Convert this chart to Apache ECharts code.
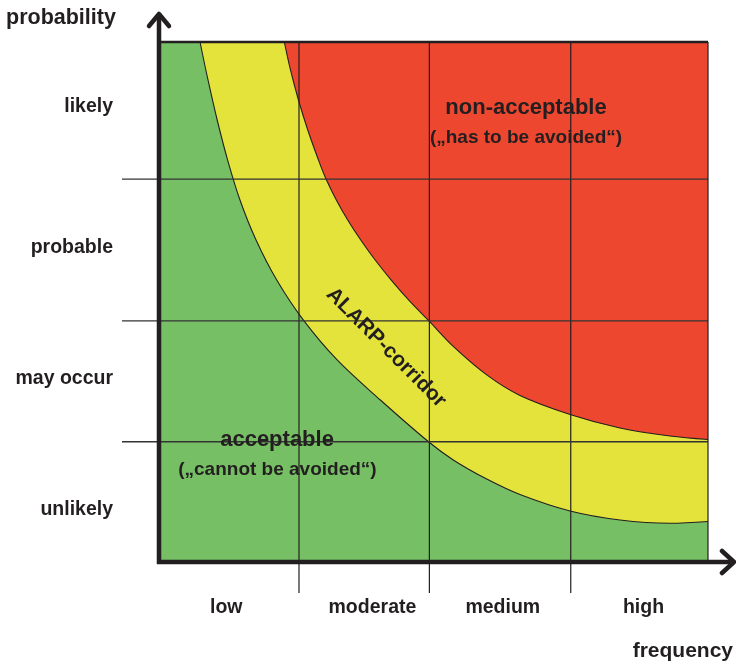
<!DOCTYPE html>
<html>
<head>
<meta charset="utf-8">
<script src="https://cdn.jsdelivr.net/npm/echarts@6/dist/echarts.min.js"></script>
<style>
html,body{margin:0;padding:0;background:#ffffff;}
#chart{width:736px;height:668px;}
</style>
</head>
<body>
<div id="chart"></div>
<script>
// ---- data (logical units: frequency 0..4, probability 0..4) ----
const frequencyCategories = ['low', 'moderate', 'medium', 'high'];
const frequencyLabelAt = [0.49, 1.555, 2.505, 3.53];
const probabilityCategories = ['unlikely', 'may occur', 'probable', 'likely'];
const probabilityLabelAt = [0.40, 1.41, 2.42, 3.50];
const frequencyDividers = [1.02, 1.97, 3.0];
const probabilityDividers = [0.925, 1.855, 2.945];
const xTitle = 'frequency';
const yTitle = 'probability';
const regionTexts = ['non-acceptable', '(\u201Ehas to be avoided\u201C)', 'ALARP-corridor', 'acceptable', '(\u201Ecannot be avoided\u201C)'];

// lower boundary of ALARP corridor (acceptable / ALARP)
const acceptableBoundary = [
  [0.299, 4.000], [0.357, 3.708], [0.424, 3.400], [0.500, 3.092], [0.590, 2.785],
  [0.707, 2.477], [0.858, 2.169], [1.051, 1.862], [1.298, 1.554], [1.613, 1.246],
  [1.966, 0.923], [2.144, 0.785], [2.388, 0.638], [2.630, 0.519], [2.995, 0.392],
  [3.359, 0.323], [3.723, 0.298], [4.000, 0.312]
];
// upper boundary of ALARP corridor (ALARP / non-acceptable)
const nonAcceptableBoundary = [
  [0.913, 4.000], [0.958, 3.785], [1.016, 3.554], [1.084, 3.323], [1.162, 3.092],
  [1.217, 2.946], [1.292, 2.785], [1.375, 2.631], [1.470, 2.477], [1.575, 2.323],
  [1.692, 2.169], [1.820, 2.015], [1.967, 1.854], [2.144, 1.658], [2.388, 1.439],
  [2.630, 1.281], [2.995, 1.135], [3.359, 1.031], [3.723, 0.969], [4.000, 0.942]
];

// ---- styles ----
const FONT = "'Liberation Sans', Arial, Helvetica, sans-serif";
const INK = '#231f20';
const GREEN = '#76bf64';
const YELLOW = '#e3e33b';
const RED = '#ee4730';

function txt(x, y, text, size, align, extra) {
  return Object.assign({
    type: 'text', x: x, y: y,
    style: {
      text: text, fill: INK, fontFamily: FONT, fontWeight: 'bold', fontSize: size,
      align: align || 'center', verticalAlign: 'middle'
    }
  }, extra || {});
}

function renderDecor(params, api) {
  const c = (x, y) => api.coord([x, y]);
  const o = c(0, 0), t = c(4, 4);
  const x0 = o[0], y0 = o[1], x1 = t[0], y1 = t[1];
  const ch = [];
  const ln = (a, b, p, q, w, col) => ch.push({
    type: 'line', shape: { x1: a, y1: b, x2: p, y2: q },
    style: { stroke: col || INK, lineWidth: w }
  });
  frequencyDividers.forEach(v => {
    const top = c(v, 4), bot = c(v, 0);
    ln(top[0], top[1], bot[0], bot[1] + 31, 1.2);
  });
  probabilityDividers.forEach(v => {
    const l = c(0, v), r = c(4, v);
    ln(l[0] - 37, l[1], r[0], r[1], 1.3, '#333333');
  });
  // frame
  ln(x0, y1, x1, y1, 2.5);
  ln(x1, y1, x1, y0, 1.2);
  // axes
  ln(x0 - 2, y0, x1 + 25, y0, 4.5);
  ch.push({ type: 'polyline', shape: { points: [[x1 + 14, y0 - 11], [x1 + 26, y0], [x1 + 14, y0 + 11]] },
    style: { stroke: INK, lineWidth: 4.5, fill: null, lineJoin: 'round', lineCap: 'round' } });
  ln(x0, y0 + 2, x0, y1 - 27, 4.5);
  ch.push({ type: 'polyline', shape: { points: [[x0 - 10, y1 - 16], [x0, y1 - 28], [x0 + 10, y1 - 16]] },
    style: { stroke: INK, lineWidth: 4.5, fill: null, lineJoin: 'round', lineCap: 'round' } });

  // category labels
  frequencyCategories.forEach((name, i) => {
    const p = c(frequencyLabelAt[i], 0);
    ch.push(txt(p[0], p[1] + 46, name, 19.5, 'center'));
  });
  probabilityCategories.forEach((name, i) => {
    const p = c(0, probabilityLabelAt[i]);
    ch.push(txt(p[0] - 46, p[1], name, 19.5, 'right'));
  });
  // axis titles
  ch.push(txt(x0 - 153, y1 - 24, yTitle, 21.5, 'left'));
  ch.push(txt(x1 + 25, y0 + 89, xTitle, 21, 'right'));

  // region texts
  const na = c(2.674, 3.49), nb = c(2.674, 3.265);
  ch.push(txt(na[0], na[1], regionTexts[0], 22, 'center'));
  ch.push(txt(nb[0], nb[1], regionTexts[1], 19, 'center'));
  const al = c(1.655, 1.648);
  ch.push(txt(al[0], al[1], regionTexts[2], 21, 'center', { rotation: -Math.PI / 4 }));
  const aa = c(0.86, 0.938), ab = c(0.863, 0.712);
  ch.push(txt(aa[0], aa[1], regionTexts[3], 22, 'center'));
  ch.push(txt(ab[0], ab[1], regionTexts[4], 19, 'center'));

  return { type: 'group', children: ch };
}

const chart = echarts.init(document.getElementById('chart'), null, { renderer: 'canvas' });
chart.setOption({
  animation: false,
  backgroundColor: '#ffffff',
  grid: { left: 159, right: 28, top: 42, bottom: 106, show: true, backgroundColor: GREEN, borderWidth: 0 },
  xAxis: { type: 'value', min: 0, max: 4, show: false },
  yAxis: { type: 'value', min: 0, max: 4, show: false },
  series: [
    {
      type: 'line', name: 'ALARP', data: acceptableBoundary, symbol: 'none', smooth: 0.35,
      lineStyle: { color: INK, width: 1.1 },
      areaStyle: { color: YELLOW, opacity: 1, origin: 'end' },
      z: 2, silent: true
    },
    {
      type: 'line', name: 'non-acceptable', data: nonAcceptableBoundary, symbol: 'none', smooth: 0.35,
      lineStyle: { color: INK, width: 1.1 },
      areaStyle: { color: RED, opacity: 1, origin: 'end' },
      z: 3, silent: true
    },
    {
      type: 'custom', name: 'decor', data: [[0, 0]], renderItem: renderDecor,
      z: 10, silent: true
    }
  ]
});
</script>
</body>
</html>
